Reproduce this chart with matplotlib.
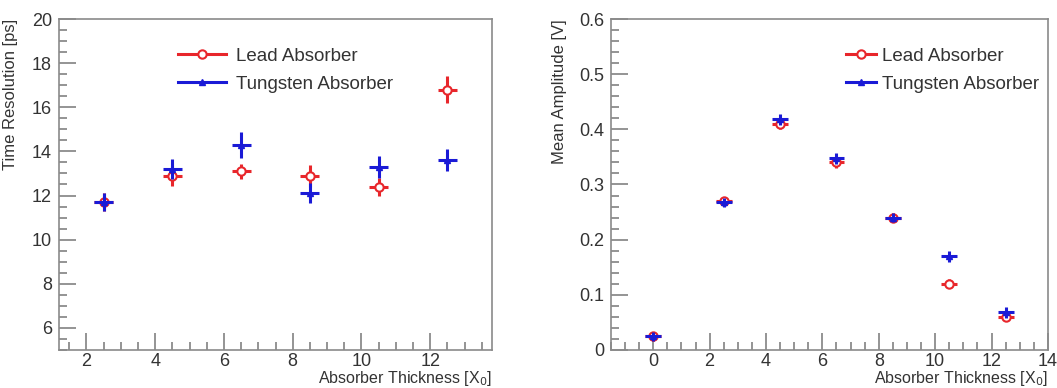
import numpy as np
import matplotlib.pyplot as plt
from matplotlib.ticker import MultipleLocator
from matplotlib.lines import Line2D

plt.rcParams['font.family'] = ['Liberation Sans', 'DejaVu Sans']

# time resolution panel
t_x = np.array([2.5, 4.5, 6.5, 8.5, 10.5, 12.5])
t_lead = np.array([11.7, 12.9, 13.1, 12.9, 12.4, 16.8])
t_lead_err = np.array([0.4, 0.45, 0.35, 0.5, 0.4, 0.6])
t_w = np.array([11.7, 13.2, 14.3, 12.1, 13.3, 13.6])
t_w_err = np.array([0.4, 0.45, 0.6, 0.45, 0.5, 0.5])

# amplitude panel
a_x = np.array([0, 2.5, 4.5, 6.5, 8.5, 10.5, 12.5])
a_lead = np.array([0.025, 0.270, 0.410, 0.340, 0.240, 0.120, 0.060])
a_lead_err = np.array([0.008, 0.008, 0.010, 0.010, 0.008, 0.008, 0.008])
a_w = np.array([0.025, 0.268, 0.418, 0.348, 0.240, 0.170, 0.068])
a_w_err = np.array([0.008, 0.008, 0.010, 0.010, 0.008, 0.010, 0.010])

x_err = 0.28
red = '#e8262b'
blue = '#1a1ad6'
txt = '#333333'

fig = plt.figure(figsize=(10.57, 3.88), dpi=100)
ax1 = fig.add_axes([0.0558, 0.098, 0.4097, 0.853])
ax2 = fig.add_axes([0.578, 0.098, 0.4134, 0.853])


def draw(ax, x, yl, el, yw, ew):
    ax.errorbar(x, yl, xerr=x_err, yerr=el, fmt='o', color=red, mfc='white',
                mec=red, ms=6, mew=1.5, elinewidth=2.2, capsize=0, zorder=3)
    ax.errorbar(x, yw, xerr=x_err, yerr=ew, fmt='^', color=blue, mfc=blue,
                mec=blue, ms=5, elinewidth=2.2, capsize=0, zorder=4)


draw(ax1, t_x, t_lead, t_lead_err, t_w, t_w_err)
draw(ax2, a_x, a_lead, a_lead_err, a_w, a_w_err)

ax1.set_xlim(1.2, 13.8)
ax1.set_ylim(5, 20)
ax1.xaxis.set_major_locator(MultipleLocator(2))
ax1.xaxis.set_minor_locator(MultipleLocator(0.5))
ax1.yaxis.set_minor_locator(MultipleLocator(0.5))
ax1.set_yticks([6, 8, 10, 12, 14, 16, 18, 20])

ax2.set_xlim(-1.5, 14)
ax2.set_ylim(0, 0.6)
ax2.xaxis.set_major_locator(MultipleLocator(2))
ax2.xaxis.set_minor_locator(MultipleLocator(0.5))
ax2.yaxis.set_minor_locator(MultipleLocator(0.02))
ax2.set_yticks([0, 0.1, 0.2, 0.3, 0.4, 0.5, 0.6])
ax2.set_yticklabels(['0', '0.1', '0.2', '0.3', '0.4', '0.5', '0.6'])

for ax in (ax1, ax2):
    for s in ax.spines.values():
        s.set_color('#8a8a8a')
        s.set_linewidth(1.2)
    ax.tick_params(which='both', direction='in', color='#777777', width=1.1,
                   labelsize=13, labelcolor=txt, top=False, right=False)
    ax.tick_params(which='major', length=12, pad=5)
    ax.tick_params(which='minor', length=6)
    ax.tick_params(axis='x', which='major', pad=2)

ax1.set_ylabel('Time Resolution [ps]', fontsize=12, color=txt, loc='top')
ax2.set_ylabel('Mean Amplitude [V]', fontsize=12, color=txt, loc='top')
ax1.yaxis.set_label_coords(-0.095, 1.0)
ax2.yaxis.set_label_coords(-0.1, 1.0)
ax1.set_xlabel('Absorber Thickness [X$_0$]', fontsize=11.5, color=txt, loc='right')
ax2.set_xlabel('Absorber Thickness [X$_0$]', fontsize=11.5, color=txt, loc='right')
ax1.xaxis.set_label_coords(1.0, -0.056)
ax2.xaxis.set_label_coords(1.0, -0.056)

handles = [Line2D([], [], color=red, lw=2.2, marker='o', mfc='white', mec=red, ms=6, mew=1.5),
           Line2D([], [], color=blue, lw=2.2, marker='^', mfc=blue, mec=blue, ms=5)]
labels = ['Lead Absorber', 'Tungsten Absorber']

ax1.legend(handles, labels, loc='upper left', bbox_to_anchor=(0.235, 0.965), frameon=False,
           fontsize=13.5, handlelength=2.6, labelspacing=0.6, handletextpad=0.5,
           labelcolor=txt)
ax2.legend(handles, labels, loc='upper left', bbox_to_anchor=(0.5, 0.965), frameon=False,
           fontsize=13.5, handlelength=1.6, labelspacing=0.6, handletextpad=0.3,
           labelcolor=txt)

fig.savefig('out.png', dpi=100)
